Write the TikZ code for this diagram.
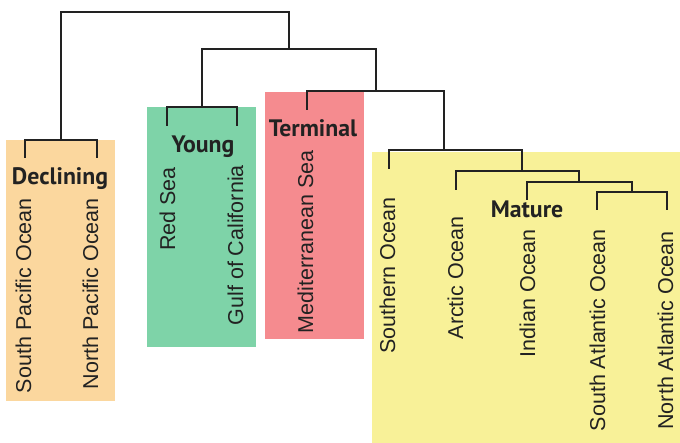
\documentclass[tikz,border=0pt]{standalone}
\usepackage{fontspec}
\setmainfont{Liberation Sans}
\newfontfamily\stagefont{PT Sans}
\usetikzlibrary{positioning}
\definecolor{declining}{RGB}{251,215,158}
\definecolor{young}{RGB}{126,211,168}
\definecolor{terminal}{RGB}{245,139,143}
\definecolor{mature}{RGB}{248,241,152}
\definecolor{ink}{RGB}{34,34,34}

\begin{document}
\begin{tikzpicture}[x=1pt, y=-1pt,
  branch/.style={draw=ink, line width=1.6pt},
  leaf/.style={font=\fontsize{21.5}{24}\selectfont, text=ink, rotate=90,
               anchor=base east, inner sep=0pt},
  stage/.style={font=\stagefont\bfseries\fontsize{23.8}{26}\selectfont,
                text=ink, anchor=base, inner sep=0pt}]
  \useasboundingbox (0,0) rectangle (680,443);
  % stage boxes
  \fill[declining] (6,140)   rectangle (115,401);
  \fill[young]     (147,107) rectangle (256,347);
  \fill[terminal]  (265,92)  rectangle (364,339);
  \fill[mature]    (372,152) rectangle (680,443);
  % leaf ends
  \coordinate (spo) at (25,158);
  \coordinate (npo) at (97,158);
  \coordinate (rs)  at (167,126);
  \coordinate (gc)  at (237,126);
  \coordinate (med) at (307,110);
  \coordinate (so)  at (389,169);
  \coordinate (ao)  at (456,190);
  \coordinate (io)  at (527,200);
  \coordinate (sao) at (597,210);
  \coordinate (nao) at (667,210);
  % joins
  \coordinate (dec) at (61,140);
  \coordinate (you) at (202,107);
  \coordinate (k1)  at (175,12);
  \coordinate (k2)  at (289,49);
  \coordinate (k3)  at (376,91);
  \coordinate (k4)  at (444,150);
  \coordinate (k5)  at (522,171);
  \coordinate (k6)  at (579,182);
  \coordinate (k7)  at (632,192);
  \draw[branch] (spo) |- (dec) -| (npo);
  \draw[branch] (rs)  |- (you) -| (gc);
  \draw[branch] (dec) |- (k1)  -| (k2);
  \draw[branch] (you) |- (k2)  -| (k3);
  \draw[branch] (med) |- (k3)  -| (k4);
  \draw[branch] (so)  |- (k4)  -| (k5);
  \draw[branch] (ao)  |- (k5)  -| (k6);
  \draw[branch] (io)  |- (k6)  -| (k7);
  \draw[branch] (sao) |- (k7)  -| (nao);
  % stage titles
  \node[stage] (tdec) at (60,185)  {Declining};
  \node[stage] (tyou) at (203,153) {Young};
  \node[stage] (tter) at (313,137) {Terminal};
  \node[stage] (tmat) at (527,218) {Mature};
  % oceans
  \node[leaf] (lspo) at (31,198)  {South Pacific Ocean};
  \node[leaf] (lnpo) at (98,198)  {North Pacific Ocean};
  \node[leaf] (lrs)  at (175,167) {Red Sea};
  \node[leaf] (lgc)  at (243,165) {Gulf of California};
  \node[leaf] (lmed) at (313,150) {Mediterranean Sea};
  \node[leaf] (lso)  at (395,197) {Southern Ocean};
  \node[leaf] (lao)  at (463,216) {Arctic Ocean};
  \node[leaf] (lio)  at (535,229) {Indian Ocean};
  \node[leaf] (lsao) at (605,229) {South Atlantic Ocean};
  \node[leaf] (lnao) at (673,231) {North Atlantic Ocean};
\end{tikzpicture}
\end{document}
